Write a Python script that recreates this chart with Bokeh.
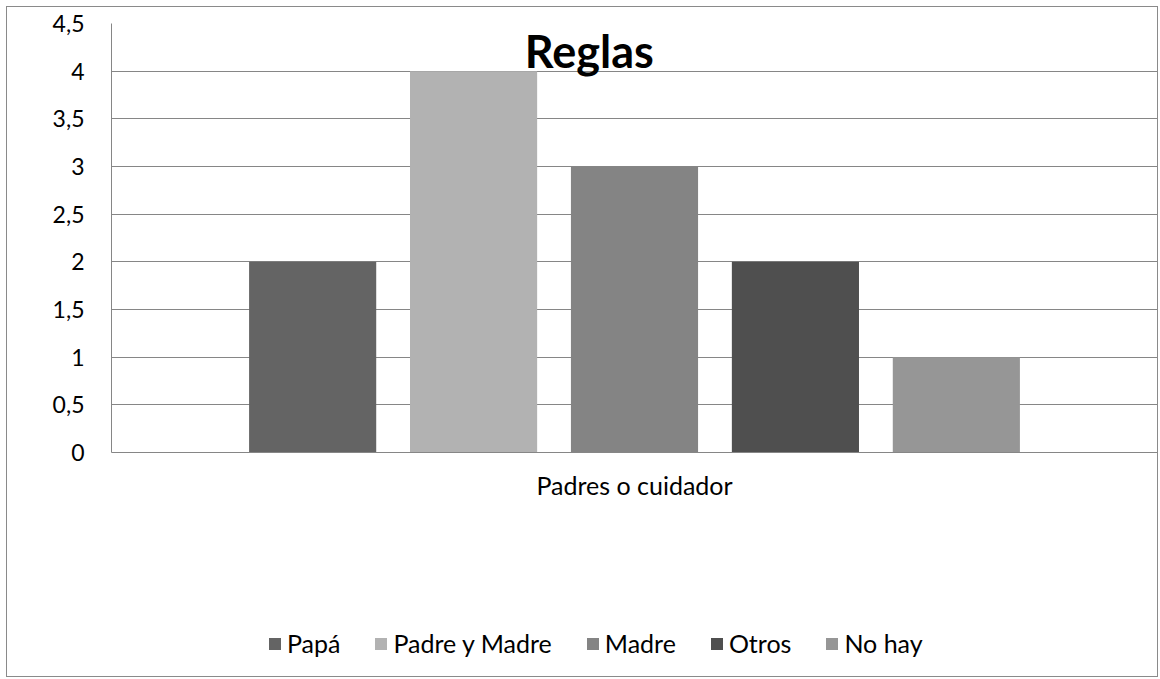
from bokeh.plotting import figure
from bokeh.layouts import column
from bokeh.models import (ColumnDataSource, FactorRange, Range1d, FixedTicker,
                          Legend, LegendItem, Label)
from bokeh.embed import file_html
from bokeh.resources import INLINE

# ---- data ----
categories = ["Papá", "Padre y Madre", "Madre", "Otros", "No hay"]
values = [2, 4, 3, 2, 1]
colors = ["#646464", "#b2b2b2", "#848484", "#4f4f4f", "#969696"]
y_ticks = [0, 0.5, 1, 1.5, 2, 2.5, 3, 3.5, 4, 4.5]
y_tick_labels = ["0", "0,5", "1", "1,5", "2", "2,5", "3", "3,5", "4", "4,5"]
group_label = "Padres o cuidador"
title_text = "Reglas"

FONT = "Lato"
GRID = "#868686"
FS = "25px"

src = ColumnDataSource(dict(cat=categories, val=values, color=colors))
xr = FactorRange(factors=categories, range_padding=0.3)

p = figure(width=1150, height=533, x_range=xr, y_range=Range1d(0, 4.5),
           output_backend="svg", toolbar_location=None, title=None,
           min_border_left=104, min_border_right=0,
           min_border_top=16, min_border_bottom=88)

r = p.vbar(x="cat", top="val", width=0.79, fill_color="color",
           line_color=None, source=src)

p.outline_line_color = None
p.xgrid.grid_line_color = None
p.ygrid.grid_line_color = GRID
p.ygrid.grid_line_width = 1

# y axis
p.yaxis.ticker = FixedTicker(ticks=y_ticks)
p.yaxis.major_label_overrides = dict(zip(y_ticks, y_tick_labels))
p.yaxis.major_label_text_font = FONT
p.yaxis.major_label_text_font_size = "23px"
p.yaxis.major_label_text_color = "#000000"
p.yaxis.major_label_standoff = 21
p.yaxis.major_tick_line_color = None
p.yaxis.minor_tick_line_color = None
p.yaxis.axis_line_color = GRID

# x axis: only the group label
p.xaxis.ticker = FixedTicker(ticks=[])
p.xaxis.axis_label = group_label
p.xaxis.axis_label_text_font = FONT
p.xaxis.axis_label_text_font_size = FS
p.xaxis.axis_label_text_font_style = "normal"
p.xaxis.axis_label_text_color = "#000000"
p.xaxis.axis_label_standoff = 17
p.xaxis.major_label_standoff = 0
p.xaxis.major_tick_line_color = None
p.xaxis.minor_tick_line_color = None
p.xaxis.axis_line_color = GRID

# title drawn over the plot area
p.add_layout(Label(x=2.219, y=4.21, text=title_text, text_font=FONT,
                   text_font_style="bold", text_font_size="45px",
                   text_align="center", text_baseline="alphabetic",
                   text_color="#000000"))

# legend strip (bars kept out of view, only the legend shows)
p2 = figure(width=1150, height=136, x_range=xr, y_range=Range1d(10, 11),
            output_backend="svg", toolbar_location=None, title=None,
            min_border=0)
p2.axis.visible = False
p2.grid.visible = False
p2.outline_line_color = None
r2 = p2.vbar(x="cat", top="val", width=0.79, fill_color="color",
             line_color=None, source=src)

items = [LegendItem(label=c, renderers=[r2], index=i)
         for i, c in enumerate(categories)]
legend = Legend(items=items, orientation="horizontal", location=(156, 18),
                glyph_width=15, glyph_height=15, label_standoff=5, spacing=33,
                padding=0, margin=0, border_line_color=None,
                background_fill_alpha=0, label_text_font=FONT,
                label_text_font_size=FS, label_text_color="#000000")
p2.add_layout(legend, "center")

layout = column(p, p2, spacing=0,
                styles={"border": "1px solid #8a8a8a",
                        "margin": "6px 0 0 6px"})

open("out.html", "w").write(file_html(layout, INLINE))
